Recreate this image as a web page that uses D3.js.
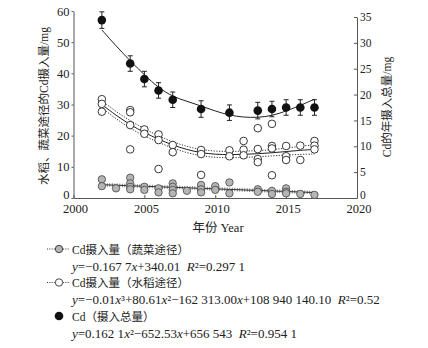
<!DOCTYPE html>
<html>
<head>
<meta charset="utf-8">
<script src="https://cdn.jsdelivr.net/npm/d3@7"></script>
<style>
  body { margin: 0; background: #fff; }
  text { font-family: "Liberation Serif", "Noto Sans CJK SC", serif; fill: #222; }
</style>
</head>
<body>
<div id="container"></div>
<script>
let w = 428;
let h = 348;

// total Cd intake (right axis)
let totalYears = [2002, 2004, 2005, 2006, 2007, 2009, 2011, 2013, 2014, 2015, 2016, 2017];
let totalMean = [34.4, 26.0, 23.0, 20.8, 19.0, 17.2, 16.5, 16.9, 17.2, 17.5, 17.5, 17.5];
let totalErr = [1.6, 1.5, 1.5, 1.5, 1.5, 1.6, 1.5, 1.6, 1.5, 1.5, 1.5, 1.5];

let fitYears = [2002, 2003, 2004, 2005, 2006, 2007, 2008, 2009, 2010, 2011, 2012, 2013, 2014, 2015, 2016, 2017];
let totalFit = [32.5, 29.4, 26.5, 23.8, 21.3, 19.6, 18.7, 17.8, 16.8, 16.0, 15.6, 15.55, 15.9, 16.8, 17.9, 19.1];

// rice route (left axis)
let riceYear = [2002, 2002, 2002, 2004, 2004, 2004, 2004, 2005, 2005, 2006, 2006, 2006, 2007, 2007,
  2009, 2009, 2009, 2011, 2011, 2012, 2012, 2012, 2013, 2013, 2013, 2013, 2014, 2014, 2014, 2014,
  2015, 2015, 2015, 2016, 2016, 2017, 2017, 2017];
let riceIntake = [31.7, 30.2, 27.7, 28.2, 27.5, 23.4, 15.6, 22.0, 20.6, 20.4, 18.6, 9.3, 17.0, 14.7,
  15.4, 14.1, 7.4, 15.3, 13.4, 18.3, 15.5, 13.7, 22.4, 15.7, 12.5, 11.5, 23.8, 16.7, 15.9, 7.3,
  16.7, 13.4, 12.2, 16.8, 12.2, 18.3, 16.8, 15.6];
let riceFit = [30.0, 26.5, 23.5, 21.0, 18.8, 17.0, 15.5, 14.5, 14.0, 13.9, 14.0, 14.2, 14.5, 14.9, 15.3, 15.6];
let riceUpper = [31.2, 27.7, 24.8, 22.2, 19.9, 18.0, 16.5, 15.5, 15.0, 14.9, 15.0, 15.2, 15.5, 16.0, 16.6, 17.1];
let riceLower = [28.9, 25.4, 22.3, 19.9, 17.8, 16.0, 14.5, 13.5, 13.0, 12.9, 13.0, 13.2, 13.5, 13.8, 14.0, 14.1];

// vegetable route (left axis)
let vegYear = [2002, 2002, 2003, 2004, 2004, 2004, 2004, 2005, 2005, 2006, 2006, 2007, 2007, 2007, 2007,
  2008, 2009, 2009, 2009, 2010, 2010, 2011, 2011, 2013, 2013, 2014, 2014, 2015, 2015, 2015, 2016, 2017];
let vegIntake = [6.0, 3.8, 3.1, 6.5, 4.7, 3.6, 2.8, 3.6, 2.6, 3.1, 1.8, 4.7, 3.6, 2.6, 1.5,
  2.3, 4.2, 2.8, 1.8, 3.8, 2.6, 5.0, 1.5, 2.8, 2.0, 2.3, 1.3, 3.1, 2.0, 1.5, 1.3, 1.0];
let vegFitYears = [2002, 2017];
let vegFit = [4.27, 1.75];

let xTicks = [2000, 2005, 2010, 2015, 2020];
let leftTicks = [0, 10, 20, 30, 40, 50, 60];
let rightTicks = [0, 5, 10, 15, 20, 25, 30, 35];

let legendItems = [
  { label: "Cd摄入量（蔬菜途径）", kind: "veg",
    eq: [["y", 1], ["=−0.167 7", 0], ["x", 1], ["+340.01  ", 0], ["R", 1], ["²=0.297 1", 0]] },
  { label: "Cd摄入量（水稻途径）", kind: "rice",
    eq: [["y", 1], ["=−0.01", 0], ["x", 1], ["³+80.61", 0], ["x", 1], ["²−162 313.00", 0], ["x", 1], ["+108 940 140.10  ", 0], ["R", 1], ["²=0.52", 0]] },
  { label: "Cd（摄入总量）", kind: "total",
    eq: [["y", 1], ["=0.162 1", 0], ["x", 1], ["²−652.53", 0], ["x", 1], ["+656 543  ", 0], ["R", 1], ["²=0.954 1", 0]] }
];

let viz = d3.select("#container")
  .append("svg")
    .attr("width", w)
    .attr("height", h)
;

let xScale = d3.scaleLinear().domain([2000, 2020]).range([73.5, 357]);
let yLeft = d3.scaleLinear().domain([0, 60]).range([198, 11]);
let yRight = d3.scaleLinear().domain([0, 35]).range([198, 17]);

// axes
let xAxis = d3.axisBottom(xScale).tickValues(xTicks).tickFormat(d3.format("d"))
  .tickSizeInner(-3).tickSizeOuter(0).tickPadding(6);
let xAxisGroup = viz.append("g").attr("transform", "translate(0,198)").call(xAxis);

let leftAxis = d3.axisLeft(yLeft).tickValues(leftTicks).tickSizeInner(2).tickSizeOuter(0).tickPadding(2);
let leftAxisGroup = viz.append("g").attr("transform", "translate(73.5,0)").call(leftAxis);

let rightAxis = d3.axisRight(yRight).tickValues(rightTicks).tickSizeInner(-3).tickSizeOuter(0).tickPadding(3);
let rightAxisGroup = viz.append("g").attr("transform", "translate(357,0)").call(rightAxis);

[xAxisGroup, leftAxisGroup, rightAxisGroup].forEach(function(g){
  g.selectAll("path, line").attr("stroke", "#555").attr("stroke-width", 1);
  g.selectAll("text").attr("font-family", null).attr("fill", "#222");
});
xAxisGroup.selectAll("text").attr("font-size", 12.5).attr("dx", 1.5);
leftAxisGroup.selectAll("text").attr("font-size", 12.5);
rightAxisGroup.selectAll("text").attr("font-size", 11.5);
// keep the zero labels clear of the year labels
leftAxisGroup.selectAll(".tick text").filter(function(d){ return d === 0; }).attr("dy", "0.05em");
rightAxisGroup.selectAll(".tick text").filter(function(d){ return d === 0; }).attr("dy", "0.05em");

// axis titles
viz.append("text")
  .attr("transform", "translate(48,106) rotate(-90)")
  .attr("text-anchor", "middle")
  .attr("font-family", "'Noto Sans CJK SC', sans-serif")
  .attr("font-size", 11.5)
  .text("水稻、蔬菜途径的Cd摄入量/mg");

viz.append("text")
  .attr("transform", "translate(391,107) rotate(-90)")
  .attr("text-anchor", "middle")
  .attr("font-family", "'Noto Sans CJK SC', sans-serif")
  .attr("font-size", 11.5)
  .text("Cd的年摄入总量/mg");

viz.append("text")
  .attr("x", 218).attr("y", 232)
  .attr("text-anchor", "middle")
  .attr("font-size", 12.5)
  .text("年份 Year");

let plot = viz.append("g");

function lineOn(scale, ys, xs){
  return d3.line()
    .x(function(d,i){ return xScale(xs[i]); })
    .y(function(d){ return scale(d); })
    .curve(d3.curveBasis)(ys);
}

// rice fit with bands
[riceUpper, riceLower].forEach(function(arr){
  plot.append("path").attr("d", lineOn(yLeft, arr, fitYears))
    .attr("fill", "none").attr("stroke", "#333").attr("stroke-width", 1)
    .attr("stroke-dasharray", "1.2,1.5");
});
plot.append("path").attr("d", lineOn(yLeft, riceFit, fitYears))
  .attr("fill", "none").attr("stroke", "#222").attr("stroke-width", 1);

// vegetable fit (hatched look)
plot.append("path").attr("d", lineOn(yLeft, vegFit, vegFitYears))
  .attr("fill", "none").attr("stroke", "#777").attr("stroke-width", 3.5)
  .attr("stroke-dasharray", "1,1.5");
plot.append("path").attr("d", lineOn(yLeft, vegFit, vegFitYears))
  .attr("fill", "none").attr("stroke", "#333").attr("stroke-width", 1);

// vegetable points
plot.selectAll(".veg").data(vegIntake).enter()
  .append("circle")
    .attr("class", "veg")
    .attr("cx", function(d,i){ return xScale(vegYear[i]); })
    .attr("cy", function(d){ return yLeft(d); })
    .attr("r", 3.7)
    .attr("fill", "#b5b5b5")
    .attr("stroke", "#444")
    .attr("stroke-width", 0.8)
;

// rice points
plot.selectAll(".rice").data(riceIntake).enter()
  .append("circle")
    .attr("class", "rice")
    .attr("cx", function(d,i){ return xScale(riceYear[i]); })
    .attr("cy", function(d){ return yLeft(d); })
    .attr("r", 3.8)
    .attr("fill", "#fff")
    .attr("stroke", "#222")
    .attr("stroke-width", 0.9)
;

// total fit
plot.append("path").attr("d", lineOn(yRight, totalFit, fitYears))
  .attr("fill", "none").attr("stroke", "#222").attr("stroke-width", 1);

// total points with error bars
let totalGroups = plot.selectAll(".total").data(totalMean).enter()
  .append("g").attr("class", "total");

totalGroups.append("line")
  .attr("x1", function(d,i){ return xScale(totalYears[i]); })
  .attr("x2", function(d,i){ return xScale(totalYears[i]); })
  .attr("y1", function(d,i){ return yRight(d + totalErr[i]); })
  .attr("y2", function(d,i){ return yRight(d - totalErr[i]); })
  .attr("stroke", "#222").attr("stroke-width", 1);

[1, -1].forEach(function(s){
  totalGroups.append("line")
    .attr("x1", function(d,i){ return xScale(totalYears[i]) - 2.5; })
    .attr("x2", function(d,i){ return xScale(totalYears[i]) + 2.5; })
    .attr("y1", function(d,i){ return yRight(d + s * totalErr[i]); })
    .attr("y2", function(d,i){ return yRight(d + s * totalErr[i]); })
    .attr("stroke", "#222").attr("stroke-width", 1);
});

totalGroups.append("circle")
  .attr("cx", function(d,i){ return xScale(totalYears[i]); })
  .attr("cy", function(d){ return yRight(d); })
  .attr("r", 4.3)
  .attr("fill", "#111");

// legend
let legend = viz.append("g");
legendItems.forEach(function(item, i){
  let y0 = 249 + i * 33.5;
  if (item.kind !== "total") {
    legend.append("line").attr("x1", 47).attr("x2", 70).attr("y1", y0).attr("y2", y0)
      .attr("stroke", "#333").attr("stroke-dasharray", "1,1.3");
  }
  legend.append("circle").attr("cx", 59).attr("cy", y0).attr("r", item.kind === "total" ? 4.3 : 3.7)
    .attr("fill", item.kind === "veg" ? "#b5b5b5" : (item.kind === "rice" ? "#fff" : "#111"))
    .attr("stroke", item.kind === "total" ? "none" : "#333")
    .attr("stroke-width", 0.9);
  legend.append("text").attr("x", 72).attr("y", y0 + 4.5)
    .attr("font-size", 11.5).text(item.label);
  let eq = legend.append("text").attr("x", 72).attr("y", y0 + 21.5)
    .attr("font-size", 13).style("white-space", "pre");
  item.eq.forEach(function(p){
    eq.append("tspan").attr("font-style", p[1] ? "italic" : null).text(p[0]);
  });
});
</script>
</body>
</html>
